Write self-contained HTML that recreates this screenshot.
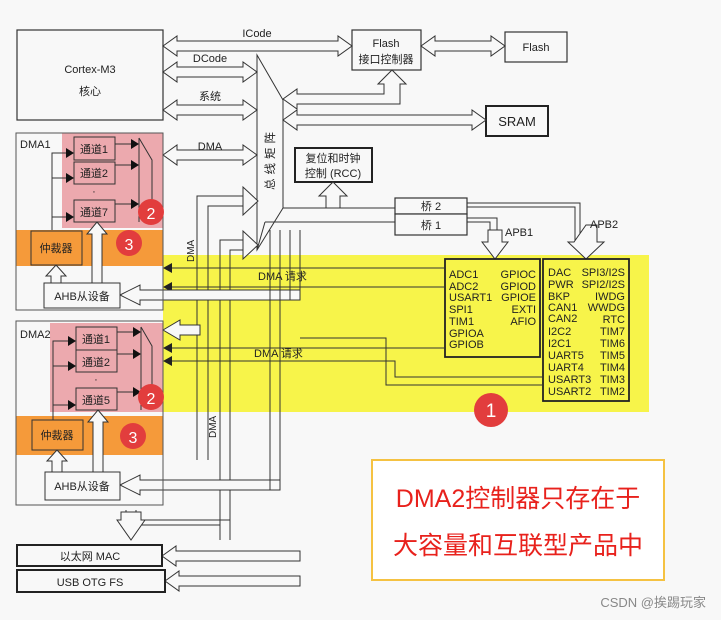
<!DOCTYPE html>
<html><head><meta charset="utf-8"><style>
body{margin:0;background:#f8f8f8;}
svg{display:block;font-family:"Liberation Sans","Noto Sans CJK SC",sans-serif;}
.b{fill:#f8f8f8;stroke:#333;stroke-width:1.2}
.bt{fill:#f8f8f8;stroke:#222;stroke-width:2}
.h{fill:#f8f8f8;stroke:#333;stroke-width:1}
.l{fill:none;stroke:#333;stroke-width:1}
text{font-size:11px;fill:#222}
.c{fill:#e23d3d}
.ct{fill:#fff;font-size:19px;text-anchor:middle}
</style></head><body>
<svg width="721" height="620" viewBox="0 0 721 620" xmlns="http://www.w3.org/2000/svg">
<rect width="721" height="620" fill="#f8f8f8"/>
<rect x="163" y="255" width="486" height="157" fill="#f7f44a"/>
<rect x="62" y="133" width="101" height="95" fill="#eca9ae"/>
<rect x="16" y="230" width="147" height="36" fill="#f59a3a"/>
<rect x="50" y="323" width="113" height="89" fill="#eca9ae"/>
<rect x="16" y="416" width="147" height="39" fill="#f59a3a"/>

<rect class="b" x="17" y="30" width="146" height="90"/>
<text x="90" y="73" text-anchor="middle">Cortex-M3</text>
<text x="90" y="95" text-anchor="middle">核心</text>
<rect class="b" x="352" y="30" width="69" height="40"/>
<text x="386" y="47" text-anchor="middle">Flash</text>
<text x="386" y="63" text-anchor="middle">接口控制器</text>
<rect class="b" x="505" y="32" width="62" height="30"/>
<text x="536" y="51" text-anchor="middle">Flash</text>
<rect class="bt" x="486" y="106" width="62" height="30"/>
<text x="517" y="126" text-anchor="middle" style="font-size:13px">SRAM</text>
<rect class="bt" x="295" y="148" width="77" height="34"/>
<text x="333" y="162" text-anchor="middle">复位和时钟</text>
<text x="333" y="177" text-anchor="middle">控制 (RCC)</text>
<rect class="b" x="395" y="198" width="72" height="16"/>
<text x="431" y="210" text-anchor="middle">桥 2</text>
<rect class="b" x="395" y="214" width="72" height="21"/>
<text x="431" y="229" text-anchor="middle">桥 1</text>

<polygon class="h" points="257,55 283,100 283,208 257,250"/>
<text transform="translate(274,190) rotate(-90)" style="font-size:11.5px;letter-spacing:4px">总线矩阵</text>

<polygon class="h" points="163,46 177,36 177,41 338,41 338,36 352,46 338,56 338,51 177,51 177,56"/>
<text x="257" y="37" text-anchor="middle">ICode</text>
<polygon class="h" points="163,72 177,62 177,67 243,67 243,62 257,72 243,82 243,77 177,77 177,82"/>
<text x="210" y="62" text-anchor="middle">DCode</text>
<polygon class="h" points="163,110 177,100 177,105 243,105 243,100 257,110 243,120 243,115 177,115 177,120"/>
<text x="210" y="100" text-anchor="middle">系统</text>
<polygon class="h" points="163,155 177,145 177,150 243,150 243,145 257,155 243,165 243,160 177,160 177,165"/>
<text x="210" y="150" text-anchor="middle">DMA</text>
<polygon class="h" points="421,46 435,36 435,41 491,41 491,36 505,46 491,56 491,51 435,51 435,56"/>
<polygon class="h" points="283,120 297,110 297,115 472,115 472,110 486,120 472,130 472,125 297,125 297,130"/>
<polygon class="h" points="283,99 297,89 297,94 384,94 384,84 378,84 392,70 406,84 400,84 400,104 297,104 297,109"/>
<polygon class="h" points="333,182 347,196 340,196 340,208 326,208 326,196 319,196"/>
<polyline class="l" points="283,208 395,208"/>
<polyline class="l" points="265,222 395,222"/>
<polyline class="l" points="265,222 257,250"/>
<polyline class="l" points="467,203 580,203 580,245"/>
<polyline class="l" points="467,207 575,207 575,245"/>
<polygon class="h" points="574,242 568,242 586,259 604,242 597,242 597,225 586,225"/>
<text x="590" y="228">APB2</text>
<polyline class="l" points="467,218 497,218 497,245"/>
<polyline class="l" points="467,222 490,222 490,245"/>
<polygon class="h" points="488,242 482,242 495,259 508,242 502,242 502,230 488,230"/>
<text x="505" y="236">APB1</text>

<rect x="445" y="259" width="95" height="98" fill="none" stroke="#222" stroke-width="1.8"/>
<g style="font-size:10.5px">
<text x="449" y="278">ADC1</text><text x="449" y="290">ADC2</text><text x="449" y="301">USART1</text><text x="449" y="313">SPI1</text><text x="449" y="325">TIM1</text><text x="449" y="337">GPIOA</text><text x="449" y="348">GPIOB</text>
<g text-anchor="end"><text x="536" y="278">GPIOC</text><text x="536" y="290">GPIOD</text><text x="536" y="301">GPIOE</text><text x="536" y="313">EXTI</text><text x="536" y="325">AFIO</text></g>
</g>
<rect x="543" y="259" width="86" height="142" fill="none" stroke="#222" stroke-width="1.8"/>
<g style="font-size:10.5px">
<text x="548" y="276">DAC</text><text x="548" y="288">PWR</text><text x="548" y="300">BKP</text><text x="548" y="311">CAN1</text><text x="548" y="322">CAN2</text><text x="548" y="335">I2C2</text><text x="548" y="347">I2C1</text><text x="548" y="359">UART5</text><text x="548" y="371">UART4</text><text x="548" y="383">USART3</text><text x="548" y="395">USART2</text>
<g text-anchor="end"><text x="625" y="276">SPI3/I2S</text><text x="625" y="288">SPI2/I2S</text><text x="625" y="300">IWDG</text><text x="625" y="311">WWDG</text><text x="625" y="323">RTC</text><text x="625" y="335">TIM7</text><text x="625" y="347">TIM6</text><text x="625" y="359">TIM5</text><text x="625" y="371">TIM4</text><text x="625" y="383">TIM3</text><text x="625" y="395">TIM2</text></g>
</g>

<polyline class="l" points="445,268 170,268"/><polygon points="163,268 172,263 172,273" fill="#222"/>
<polyline class="l" points="445,287 170,287"/><polygon points="163,287 172,282 172,292" fill="#222"/>
<text x="258" y="280">DMA 请求</text>
<polyline class="l" points="445,348 170,348"/><polygon points="163,348 172,343 172,353" fill="#222"/>
<polyline class="l" points="543,377 395,377 395,361 170,361"/><polygon points="163,361 172,356 172,366" fill="#222"/>
<polyline class="l" points="543,385 386,385 386,338 300,338"/>
<text x="254" y="357">DMA 请求</text>

<polyline class="l" points="197,460 197,196 243,196"/>
<polyline class="l" points="208,460 208,206 243,206"/>
<polygon class="h" points="243,192 243,187 258,201 243,215 243,210"/>
<polyline class="l" points="220,540 220,240 243,240"/>
<polyline class="l" points="230,540 230,250 243,250"/>
<polygon class="h" points="243,236 243,231 258,245 243,259 243,254"/>
<text transform="translate(194,262) rotate(-90)" style="font-size:10px">DMA</text>
<text transform="translate(216,438) rotate(-90)" style="font-size:10px">DMA</text>
<polygon class="h" points="120,295 140,285 140,290 300,290 300,300 140,300 140,305"/>
<polyline class="l" points="300,290 300,230"/>
<polyline class="l" points="290,300 290,230"/>
<polygon class="h" points="163,330 180,320 180,325 200,325 200,335 180,335 180,340"/>
<polygon class="h" points="120,485 140,475 140,480 280,480 280,490 140,490 140,495"/>
<polyline class="l" points="280,480 280,230"/>
<polyline class="l" points="270,490 270,230"/>
<polyline class="l" points="126,510 126,525 220,525"/>
<polyline class="l" points="136,510 136,520 230,520"/>
<polygon class="h" points="121,520 117,520 131,540 145,520 141,520 141,512 121,512"/>
<polygon class="h" points="162,556 176,546 176,551 300,551 300,561 176,561 176,566"/>
<polygon class="h" points="165,581 179,571 179,576 300,576 300,586 179,586 179,591"/>

<rect x="16" y="133" width="147" height="177" fill="none" stroke="#555" stroke-width="1"/>
<text x="20" y="148">DMA1</text>
<rect class="h" x="74" y="137" width="41" height="23" style="fill:#eca9ae"/><text x="94" y="153" text-anchor="middle">通道1</text>
<rect class="h" x="74" y="162" width="41" height="22" style="fill:#eca9ae"/><text x="94" y="177" text-anchor="middle">通道2</text>
<text x="94" y="195" text-anchor="middle">·</text>
<rect class="h" x="74" y="200" width="41" height="22" style="fill:#eca9ae"/><text x="94" y="216" text-anchor="middle">通道7</text>
<polyline class="l" points="52,230 52,153 68,153"/><polyline class="l" points="52,178 68,178"/><polyline class="l" points="52,217 68,217"/>
<polygon points="74,153 66,148 66,158" fill="#111"/><polygon points="74,178 66,173 66,183" fill="#111"/><polygon points="74,217 66,212 66,222" fill="#111"/>
<polyline class="l" points="115,144 132,144"/><polygon points="139,144 131,139 131,149" fill="#111"/>
<polyline class="l" points="115,165 132,165"/><polygon points="139,165 131,160 131,170" fill="#111"/>
<polyline class="l" points="115,204 132,204"/><polygon points="139,204 131,199 131,209" fill="#111"/>
<polyline class="l" points="139,138 139,222"/><polyline class="l" points="139,138 152,160 152,210"/>
<rect class="h" x="31" y="231" width="51" height="34" style="fill:#f59a3a"/><text x="56" y="252" text-anchor="middle">仲裁器</text>
<rect class="h" x="44" y="283" width="76" height="25"/><text x="82" y="300" text-anchor="middle">AHB从设备</text>
<polygon class="h" points="56,265 66,276 61,276 61,283 51,283 51,276 46,276"/>
<polygon class="h" points="97,222 107,234 102,234 102,283 92,283 92,234 87,234"/>

<rect x="16" y="321" width="147" height="184" fill="none" stroke="#555" stroke-width="1"/>
<text x="20" y="338">DMA2</text>
<rect class="h" x="76" y="327" width="41" height="23" style="fill:#eca9ae"/><text x="96" y="343" text-anchor="middle">通道1</text>
<rect class="h" x="76" y="350" width="41" height="22" style="fill:#eca9ae"/><text x="96" y="366" text-anchor="middle">通道2</text>
<text x="96" y="383" text-anchor="middle">·</text>
<rect class="h" x="76" y="388" width="41" height="22" style="fill:#eca9ae"/><text x="96" y="404" text-anchor="middle">通道5</text>
<polyline class="l" points="53,420 53,341 70,341"/><polyline class="l" points="53,366 70,366"/><polyline class="l" points="53,405 70,405"/>
<polygon points="76,341 68,336 68,346" fill="#111"/><polygon points="76,366 68,361 68,371" fill="#111"/><polygon points="76,405 68,400 68,410" fill="#111"/>
<polyline class="l" points="117,332 134,332"/><polygon points="141,332 133,327 133,337" fill="#111"/>
<polyline class="l" points="117,354 134,354"/><polygon points="141,354 133,349 133,359" fill="#111"/>
<polyline class="l" points="117,392 134,392"/><polygon points="141,392 133,387 133,397" fill="#111"/>
<polyline class="l" points="141,327 141,410"/><polyline class="l" points="141,327 152,346 152,400"/>
<rect class="h" x="32" y="420" width="51" height="30" style="fill:#f59a3a"/><text x="57" y="439" text-anchor="middle">仲裁器</text>
<rect class="h" x="45" y="472" width="75" height="28"/><text x="82" y="490" text-anchor="middle">AHB从设备</text>
<polygon class="h" points="57,450 67,461 62,461 62,472 52,472 52,461 47,461"/>
<polygon class="h" points="98,410 108,422 103,422 103,472 93,472 93,422 88,422"/>

<rect class="bt" x="17" y="545" width="145" height="21"/><text x="90" y="560" text-anchor="middle">以太网 MAC</text>
<rect class="bt" x="17" y="570" width="148" height="22"/><text x="90" y="586" text-anchor="middle">USB OTG FS</text>

<circle class="c" cx="491" cy="410" r="17"/><text class="ct" x="491" y="417">1</text>
<circle class="c" cx="151" cy="212" r="13"/><text class="ct" x="151" y="219" style="font-size:16px">2</text>
<circle class="c" cx="129" cy="243" r="13"/><text class="ct" x="129" y="250" style="font-size:16px">3</text>
<circle class="c" cx="151" cy="397" r="13"/><text class="ct" x="151" y="404" style="font-size:16px">2</text>
<circle class="c" cx="133" cy="436" r="13"/><text class="ct" x="133" y="443" style="font-size:16px">3</text>

<rect x="372" y="460" width="292" height="120" fill="#fff" stroke="#f5c242" stroke-width="2"/>
<text x="518" y="507" text-anchor="middle" style="font-size:25px;fill:#e8211c">DMA2控制器只存在于</text>
<text x="518" y="554" text-anchor="middle" style="font-size:25px;fill:#e8211c">大容量和互联型产品中</text>
<text x="706" y="607" text-anchor="end" style="font-size:13px;fill:#888">CSDN @挨踢玩家</text>
</svg>
</body></html>
